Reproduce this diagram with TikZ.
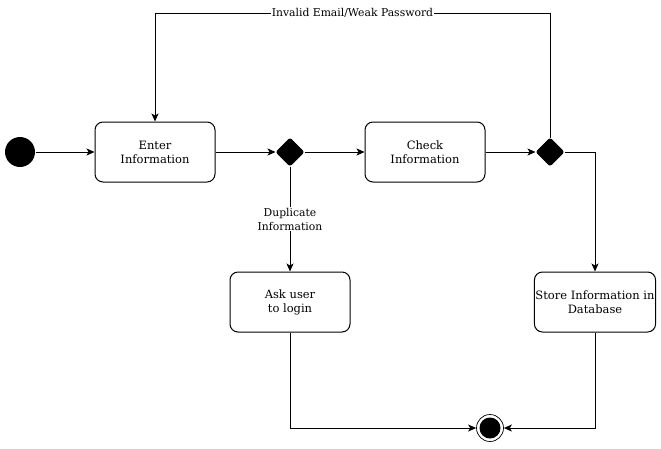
\documentclass[tikz,border=0pt]{standalone}
\usepackage{fontspec}
\setmainfont{DejaVu Serif}
\usetikzlibrary{arrows.meta,shapes.geometric}

\begin{document}
\begin{tikzpicture}[x=1pt, y=-1pt, line width=1pt,
    state/.style={draw, rounded corners=8pt, minimum width=120pt, minimum height=60pt,
      align=center, inner sep=1pt, font=\fontsize{11.5}{14}\selectfont},
    decision/.style={draw, fill=black, diamond, minimum width=28pt, minimum height=28pt,
      inner sep=0pt, rounded corners=2pt},
    flow/.style={-{Stealth[length=8pt,width=7pt,inset=2pt]}},
    guard/.style={fill=white, align=center, inner sep=1pt, font=\fontsize{10.8}{14}\selectfont}]
				\useasboundingbox (0, 0) rectangle (661, 448);
				\coordinate (Loop) at (155, 13);
				
				\node[circle, fill=black, minimum size=30pt, inner sep=0pt] (Start) at (20, 152) {};
				\node[state] (Enter) at (155, 152) {Enter\\Information};
				\node[decision] (Duplicate) at (290, 152) {};
				\node[state] (Check) at (425, 152) {Check\\Information};
				\node[decision] (Valid) at (550, 152) {};
				\node[state] (Ask) at (290, 302) {Ask user\\to login};
				\node[state] (Store) at (595, 302) {Store Information in\\Database};
				\node[circle, draw, line width=0.7pt, minimum size=27pt, inner sep=0pt] (End) at (490, 428) {};
				\node[circle, fill=black, minimum size=21pt, inner sep=0pt] (EndDot) at (End) {};
				
				\draw[flow] (Start) -- (Enter);
				\draw[flow] (Enter) -- (Duplicate);
				\draw[flow] (Duplicate) -- (Check);
				\draw[flow] (Check) -- (Valid);
				
				\draw[flow] (Valid.north) -- (Valid.north |- Loop)
					-- node[guard] {Invalid Email/Weak Password} (Loop) -- (Enter.north);
				\draw[flow] (Duplicate.south) -- node[guard] {Duplicate\\Information} (Ask.north);
				\draw[flow] (Valid.east) -| (Store.north);
				
				\draw[flow] (Ask.south) |- (End.west);
				\draw[flow] (Store.south) |- (End.east);
\end{tikzpicture}
\end{document}
